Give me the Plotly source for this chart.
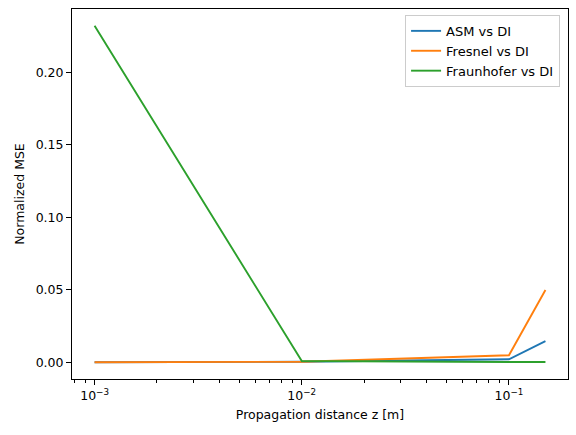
import plotly.graph_objects as go

z = [0.001, 0.01, 0.1, 0.15]
asm = [0.0, 0.0003, 0.002, 0.0145]
fresnel = [0.0, 0.0003, 0.0048, 0.0498]
fraunhofer = [0.232, 0.0008, 0.0001, 0.0001]

names = ["ASM vs DI", "Fresnel vs DI", "Fraunhofer vs DI"]
colors = ["#1f77b4", "#ff7f0e", "#2ca02c"]
series = [asm, fresnel, fraunhofer]

xticks = [0.001, 0.01, 0.1]
xticktext = ["10<sup>−3</sup>", "10<sup>−2</sup>", "10<sup>−1</sup>"]
xminor = [m * d for d in [0.0001, 0.001, 0.01, 0.1] for m in range(2, 10)]
yticks = [0.0, 0.05, 0.10, 0.15, 0.20]
yticktext = ["0.00", "0.05", "0.10", "0.15", "0.20"]

fig = go.Figure()
for n, c, s in zip(names, colors, series):
    fig.add_trace(go.Scatter(x=z, y=s, mode="lines", name=n,
                             line=dict(color=c, width=1.9)))

fig.update_layout(
    width=576, height=435,
    margin=dict(l=72, r=8, t=9, b=56),
    plot_bgcolor="white", paper_bgcolor="white",
    font=dict(family="DejaVu Sans", size=12.5, color="black"),
    showlegend=True,
    legend=dict(x=0.984, y=0.984, xanchor="right", yanchor="top",
                bgcolor="rgba(255,255,255,0.8)", bordercolor="#cccccc", borderwidth=1,
                font=dict(size=13), tracegroupgap=0),
)
fig.update_xaxes(
    type="log", range=[-3.109, -0.715], automargin=False,
    tickvals=xticks, ticktext=xticktext,
    ticks="outside", ticklen=5, tickwidth=1, tickcolor="black",
    tickfont=dict(size=12.5),
    showline=True, linecolor="black", linewidth=1, mirror=True,
    showgrid=False, zeroline=False,
    minor=dict(tickvals=xminor, ticks="outside", ticklen=2.5, tickcolor="black", showgrid=False),
    title=dict(text="Propagation distance z [m]", standoff=8, font=dict(size=12.5)),
)
fig.update_yaxes(
    range=[-0.0116, 0.2436], automargin=False,
    tickvals=yticks, ticktext=yticktext,
    ticks="outside", ticklen=5, tickwidth=1, tickcolor="black",
    tickfont=dict(size=12.5),
    showline=True, linecolor="black", linewidth=1, mirror=True,
    showgrid=False, zeroline=False,
    title=dict(text="Normalized MSE", standoff=8, font=dict(size=12.5)),
)
fig.write_html("out.html", config={"displayModeBar": False},
               post_script="document.body.style.margin='0';")
